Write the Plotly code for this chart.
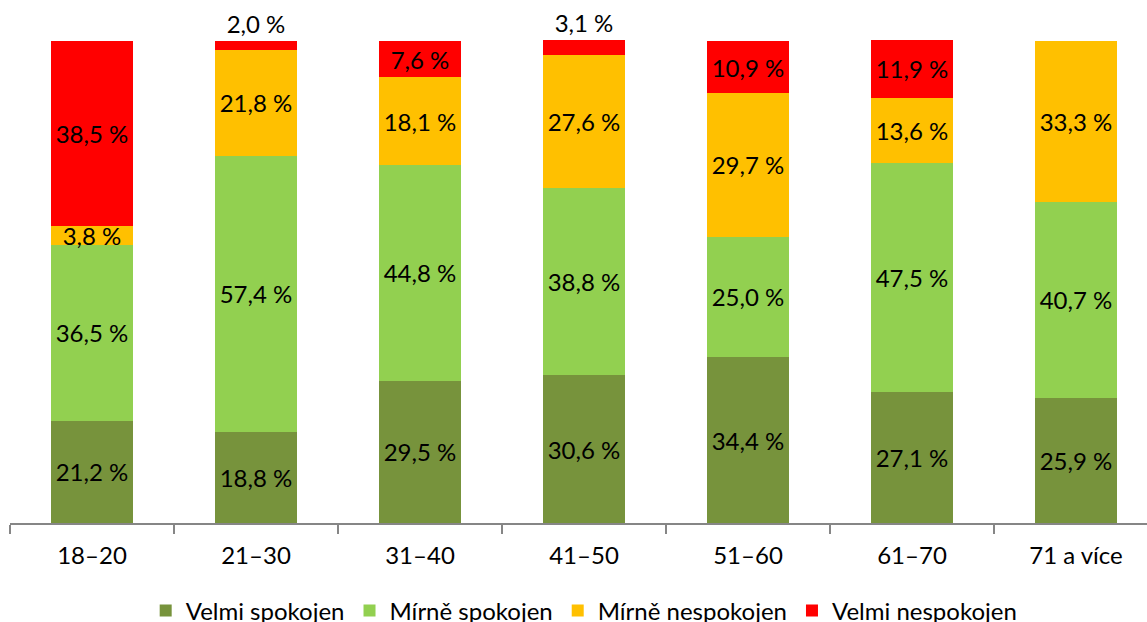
import plotly.graph_objects as go

categories = ["18–20", "21–30", "31–40", "41–50", "51–60", "61–70", "71 a více"]
series_names = ["Velmi spokojen", "Mírně spokojen", "Mírně nespokojen", "Velmi nespokojen"]
velmi_spokojen = [21.2, 18.8, 29.5, 30.6, 34.4, 27.1, 25.9]
mirne_spokojen = [36.5, 57.4, 44.8, 38.8, 25.0, 47.5, 40.7]
mirne_nespokojen = [3.8, 21.8, 18.1, 27.6, 29.7, 13.6, 33.3]
velmi_nespokojen = [38.5, 2.0, 7.6, 3.1, 10.9, 11.9, 0.0]
colors = ["#77933C", "#92D050", "#FFC000", "#FF0000"]

FONT = "Lato"
FS = 24

def fmt(v):
    return "" if v == 0 else f"{v:.1f}".replace(".", ",") + " %"

fig = go.Figure()
all_series = [velmi_spokojen, mirne_spokojen, mirne_nespokojen, velmi_nespokojen]
for name, vals, col in zip(series_names, all_series, colors):
    if name == "Velmi nespokojen":
        pos = ["outside" if v < 5 else "inside" for v in vals]
    else:
        pos = ["inside"] * len(vals)
    fig.add_trace(go.Bar(
        x=categories, y=vals, name=name,
        marker=dict(color=col, line=dict(width=0)),
        text=[fmt(v) for v in vals],
        textposition=pos,
        insidetextanchor="middle",
        constraintext="none",
        cliponaxis=False,
        textfont=dict(family=FONT, size=FS, color="black"),
        hoverinfo="skip",
    ))

plot_w = 1147 - 10
fig.update_layout(
    width=1147, height=622,
    barmode="stack",
    bargap=0.5,
    plot_bgcolor="white", paper_bgcolor="white",
    margin=dict(l=10, r=0, t=40, b=99, autoexpand=False),
    font=dict(family=FONT, size=FS, color="black"),
    showlegend=True,
    legend=dict(
        orientation="h", traceorder="normal",
        x=0.505, xanchor="center",
        y=-0.182, yanchor="middle",
        font=dict(family=FONT, size=FS, color="black"),
        itemclick=False,
    ),
    xaxis=dict(
        type="category",
        range=[-0.5, -0.5 + plot_w / 164.0],
        showline=True, linecolor="#868686", linewidth=1.5,
        ticks="outside", tickson="boundaries", ticklen=9,
        tickcolor="#868686", tickwidth=1.5,
        ticklabelstandoff=10,
        showgrid=False, zeroline=False,
        automargin=False,
        tickfont=dict(family=FONT, size=FS, color="black"),
        fixedrange=True,
    ),
    yaxis=dict(range=[0, 100.15], visible=False, showgrid=False,
               automargin=False, fixedrange=True),
)

fig.write_html(
    "out.html",
    config={"displayModeBar": False},
    post_script="document.body.style.margin='0';document.body.style.padding='0';",
)
